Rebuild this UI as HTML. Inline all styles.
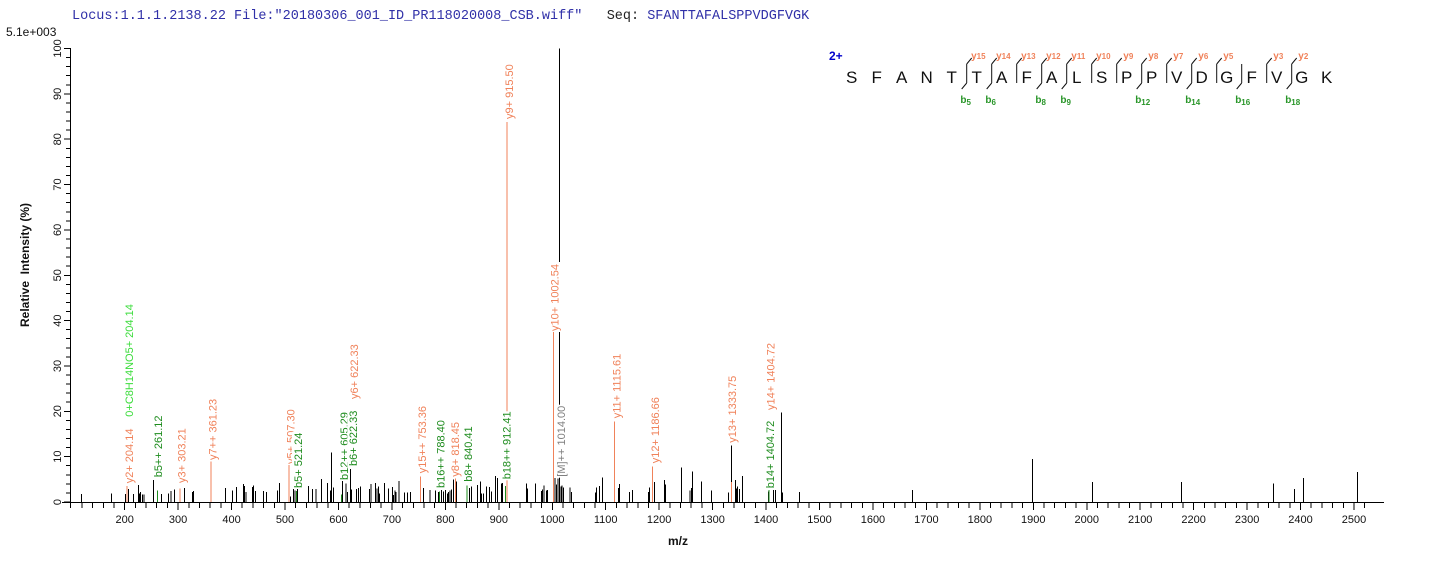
<!DOCTYPE html>
<html><head><meta charset="utf-8">
<style>
html,body{margin:0;padding:0;background:#fff;}
svg{display:block;}
text{font-family:"Liberation Sans",Arial,sans-serif;}
</style></head>
<body>
<svg width="1436" height="562" viewBox="0 0 1436 562" xmlns="http://www.w3.org/2000/svg">
<rect width="1436" height="562" fill="#fff"/>
<!-- header -->
<text x="72" y="19" style="font-family:'Liberation Mono',monospace;font-size:13.5px;white-space:pre" fill="#3030a8" xml:space="preserve">Locus:1.1.1.2138.22 File:"20180306_001_ID_PR118020008_CSB.wiff"   <tspan fill="#222">Seq:</tspan> SFANTTAFALSPPVDGFVGK</text>
<text x="6" y="36" font-size="12" fill="#111">5.1e+003</text>

<!-- axes -->
<g stroke="#000" stroke-width="1" shape-rendering="crispEdges" fill="none">
<path d="M62 502.5 H1384"/>
<path d="M70.5 48 V508"/>
<path d="M64 502H70M64 456.65H70M64 411.3H70M64 365.95H70M64 320.6H70M64 275.25H70M64 229.9H70M64 184.55H70M64 139.2H70M64 93.85H70M64 48.5H70"/>
<path d="M66 492.93H70M66 483.86H70M66 474.79H70M66 465.72H70M66 447.58H70M66 438.51H70M66 429.44H70M66 420.37H70M66 402.23H70M66 393.16H70M66 384.09H70M66 375.02H70M66 356.88H70M66 347.81H70M66 338.74H70M66 329.67H70M66 311.53H70M66 302.46H70M66 293.39H70M66 284.32H70M66 266.18H70M66 257.11H70M66 248.04H70M66 238.97H70M66 220.83H70M66 211.76H70M66 202.69H70M66 193.62H70M66 175.48H70M66 166.41H70M66 157.34H70M66 148.27H70M66 130.13H70M66 121.06H70M66 111.99H70M66 102.92H70M66 84.78H70M66 75.71H70M66 66.64H70M66 57.57H70"/>
<path d="M124.65 502V510M178.1 502V510M231.55 502V510M285 502V510M338.45 502V510M391.9 502V510M445.35 502V510M498.8 502V510M552.25 502V510M605.7 502V510M659.15 502V510M712.6 502V510M766.05 502V510M819.5 502V510M872.95 502V510M926.4 502V510M979.85 502V510M1033.3 502V510M1086.75 502V510M1140.2 502V510M1193.65 502V510M1247.1 502V510M1300.55 502V510M1354 502V510"/>
<path d="M81.89 502V508M92.58 502V508M103.27 502V508M113.96 502V508M135.34 502V508M146.03 502V508M156.72 502V508M167.41 502V508M188.79 502V508M199.48 502V508M210.17 502V508M220.86 502V508M242.24 502V508M252.93 502V508M263.62 502V508M274.31 502V508M295.69 502V508M306.38 502V508M317.07 502V508M327.76 502V508M349.14 502V508M359.83 502V508M370.52 502V508M381.21 502V508M402.59 502V508M413.28 502V508M423.97 502V508M434.66 502V508M456.04 502V508M466.73 502V508M477.42 502V508M488.11 502V508M509.49 502V508M520.18 502V508M530.87 502V508M541.56 502V508M562.94 502V508M573.63 502V508M584.32 502V508M595.01 502V508M616.39 502V508M627.08 502V508M637.77 502V508M648.46 502V508M669.84 502V508M680.53 502V508M691.22 502V508M701.91 502V508M723.29 502V508M733.98 502V508M744.67 502V508M755.36 502V508M776.74 502V508M787.43 502V508M798.12 502V508M808.81 502V508M830.19 502V508M840.88 502V508M851.57 502V508M862.26 502V508M883.64 502V508M894.33 502V508M905.02 502V508M915.71 502V508M937.09 502V508M947.78 502V508M958.47 502V508M969.16 502V508M990.54 502V508M1001.23 502V508M1011.92 502V508M1022.61 502V508M1043.99 502V508M1054.68 502V508M1065.37 502V508M1076.06 502V508M1097.44 502V508M1108.13 502V508M1118.82 502V508M1129.51 502V508M1150.89 502V508M1161.58 502V508M1172.27 502V508M1182.96 502V508M1204.34 502V508M1215.03 502V508M1225.72 502V508M1236.41 502V508M1257.79 502V508M1268.48 502V508M1279.17 502V508M1289.86 502V508M1311.24 502V508M1321.93 502V508M1332.62 502V508M1343.31 502V508M1364.69 502V508"/>
</g>

<!-- y labels -->
<g font-size="11" fill="#111" text-anchor="middle">
<text transform="translate(57,502) rotate(-90)" dy="0.35em">0</text>
<text transform="translate(57,456.65) rotate(-90)" dy="0.35em">10</text>
<text transform="translate(57,411.3) rotate(-90)" dy="0.35em">20</text>
<text transform="translate(57,365.95) rotate(-90)" dy="0.35em">30</text>
<text transform="translate(57,320.6) rotate(-90)" dy="0.35em">40</text>
<text transform="translate(57,275.25) rotate(-90)" dy="0.35em">50</text>
<text transform="translate(57,229.9) rotate(-90)" dy="0.35em">60</text>
<text transform="translate(57,184.55) rotate(-90)" dy="0.35em">70</text>
<text transform="translate(57,139.2) rotate(-90)" dy="0.35em">80</text>
<text transform="translate(57,93.85) rotate(-90)" dy="0.35em">90</text>
<text transform="translate(57,48.5) rotate(-90)" dy="0.35em">100</text>
</g>
<text transform="translate(25,265) rotate(-90)" dy="0.35em" font-size="12" font-weight="bold" fill="#111" text-anchor="middle" xml:space="preserve">Relative  Intensity (%)</text>

<!-- x labels -->
<g font-size="11" fill="#111" text-anchor="middle">
<text x="124.65" y="523">200</text><text x="178.1" y="523">300</text><text x="231.55" y="523">400</text><text x="285" y="523">500</text><text x="338.45" y="523">600</text><text x="391.9" y="523">700</text><text x="445.35" y="523">800</text><text x="498.8" y="523">900</text><text x="552.25" y="523">1000</text><text x="605.7" y="523">1100</text><text x="659.15" y="523">1200</text><text x="712.6" y="523">1300</text><text x="766.05" y="523">1400</text><text x="819.5" y="523">1500</text><text x="872.95" y="523">1600</text><text x="926.4" y="523">1700</text><text x="979.85" y="523">1800</text><text x="1033.3" y="523">1900</text><text x="1086.75" y="523">2000</text><text x="1140.2" y="523">2100</text><text x="1193.65" y="523">2200</text><text x="1247.1" y="523">2300</text><text x="1300.55" y="523">2400</text><text x="1354" y="523">2500</text>
</g>
<text x="678" y="545" font-size="12" font-weight="bold" fill="#111" text-anchor="middle">m/z</text>

<!-- black peaks -->
<path stroke="#000" stroke-width="1" fill="none" shape-rendering="crispEdges" d="M81.7 502V494M111.3 502V493.3M125.7 502V494M128.7 502V489M133.3 502V494M138.3 502V485M139.3 502V493.3M140.7 502V492M142.3 502V494.3M144 502V494.3M153.3 502V480M161.7 502V494M168.3 502V493.3M171 502V491M174.3 502V489.7M184.7 502V488M192.3 502V492M193.7 502V491M225.3 502V488M232.3 502V490.7M236.3 502V487M243.7 502V484M244.7 502V486M246 502V492M252.3 502V487M253.7 502V485.7M255.3 502V491M263.7 502V491M266.7 502V492M277.7 502V490.7M279.3 502V483M290.3 502V496.7M293.3 502V489M295 502V490.7M297.7 502V488.3M308.7 502V486M312.3 502V489M316 502V489M321.3 502V479M327.3 502V483M330.3 502V490.7M331.7 502V452.3M333.3 502V487.3M342.7 502V480M346 502V483.7M347.3 502V492M350.5 502V469M351.7 502V489.3M356.7 502V489M358.7 502V488M360.7 502V486.7M369.7 502V489M371 502V484M375.7 502V483M377 502V488.3M378.3 502V486.7M379.7 502V493.3M384.3 502V483M388.3 502V488.3M392.3 502V487M393.3 502V495M395 502V490.7M396 502V492M399 502V481M404.7 502V492.7M407.3 502V492.7M410.7 502V492M423.7 502V488M430 502V490M435.3 502V490.7M438.3 502V492M441.7 502V490M443.3 502V491.3M445.3 502V490M447.3 502V493.3M448.7 502V492M450 502V490.7M451.7 502V489.3M453.3 502V479.3M456.7 502V481.3M469.3 502V488M471.3 502V486.7M477.3 502V485M480.3 502V481.7M481.3 502V493.3M483.3 502V493.3M486.3 502V486.7M489.7 502V487M491.3 502V491.3M495.3 502V476M497.3 502V478M501.3 502V483.3M502.7 502V483M526.7 502V483.7M527.7 502V488.3M535.3 502V483.7M541.7 502V491M542.7 502V489.3M544 502V485.7M546.3 502V490.7M547.7 502V490M555 502V478M556.5 502V484.7M558 502V478.7M559.3 502V48.5M561 502V486.7M562 502V485.3M563.3 502V487.3M570 502V487.3M571.3 502V492M595.3 502V492.7M596.7 502V487.3M599.3 502V486M602.7 502V477.3M618.3 502V488M619.3 502V484M629.3 502V492M632.3 502V490M648.7 502V492M649.7 502V487.3M654.3 502V482M664.3 502V480M665.3 502V484.7M681.7 502V467.3M690 502V490.7M691.3 502V488M692.3 502V471.3M701.3 502V481.3M711.3 502V490.7M728.7 502V492.7M731.3 502V445.7M735.3 502V480M736.3 502V488.7M737.3 502V486.7M739.3 502V489M742.3 502V476M768.3 502V491.3M773.3 502V490M775.3 502V490M781.7 502V412.7M782.7 502V492.7M799.7 502V492M912.3 502V490M1032.3 502V459M1092.3 502V482M1181.7 502V482M1273.3 502V483.7M1294.3 502V489M1303.3 502V478M1357.3 502V472"/>
<!-- orange peaks -->
<path stroke="#f0825a" stroke-width="1" fill="none" shape-rendering="crispEdges" d="M126.9 502V486M179.8 502V488.7M211 502V461.7M289 502V464.3M420.7 502V476.7M455.5 502V478.7M507 502V122M553.3 502V331M614.7 502V421.7M652.7 502V466.7M731.3 502V482"/>
<!-- green peaks -->
<path stroke="#1e8c1e" stroke-width="1" fill="none" shape-rendering="crispEdges" d="M157.3 502V490.7M296.4 502V491M341.5 502V494.7M439.6 502V491.3M467.2 502V485.7M505.4 502V486M769.2 502V490"/>

<!-- peak labels -->
<g font-size="11">
<g transform="translate(129.3,483.3) rotate(-90)"><rect x="-1" y="-6" width="57" height="12" fill="#fff"/><text dy="0.35em" fill="#f0825a">y2+ 204.14</text></g>
<g transform="translate(129.3,416.7) rotate(-90)"><rect x="-1" y="-6" width="114" height="12" fill="#fff"/><text dy="0.35em" fill="#3cdc3c">0+C8H14NO5+ 204.14</text></g>
<g transform="translate(158.3,477.3) rotate(-90)"><rect x="-1" y="-6" width="63" height="12" fill="#fff"/><text dy="0.35em" fill="#1e8c1e">b5++ 261.12</text></g>
<g transform="translate(181.7,483) rotate(-90)"><rect x="-1" y="-6" width="57" height="12" fill="#fff"/><text dy="0.35em" fill="#f0825a">y3+ 303.21</text></g>
<g transform="translate(212.7,460) rotate(-90)"><rect x="-1" y="-6" width="63" height="12" fill="#fff"/><text dy="0.35em" fill="#f0825a">y7++ 361.23</text></g>
<g transform="translate(290.5,464) rotate(-90)"><rect x="-1" y="-6" width="57" height="12" fill="#fff"/><text dy="0.35em" fill="#f0825a">y5+ 507.30</text></g>
<g transform="translate(298,488) rotate(-90)"><rect x="-1" y="-6" width="57" height="12" fill="#fff"/><text dy="0.35em" fill="#1e8c1e">b5+ 521.24</text></g>
<g transform="translate(344,480) rotate(-90)"><rect x="-1" y="-6" width="69" height="12" fill="#fff"/><text dy="0.35em" fill="#1e8c1e">b12++ 605.29</text></g>
<g transform="translate(353.3,466) rotate(-90)"><rect x="-1" y="-6" width="57" height="12" fill="#fff"/><text dy="0.35em" fill="#1e8c1e">b6+ 622.33</text></g>
<g transform="translate(354.3,399) rotate(-90)"><rect x="-1" y="-6" width="57" height="12" fill="#fff"/><text dy="0.35em" fill="#f0825a">y6+ 622.33</text></g>
<g transform="translate(422.3,473.3) rotate(-90)"><rect x="-1" y="-6" width="69" height="12" fill="#fff"/><text dy="0.35em" fill="#f0825a">y15++ 753.36</text></g>
<g transform="translate(440.7,488) rotate(-90)"><rect x="-1" y="-6" width="69" height="12" fill="#fff"/><text dy="0.35em" fill="#1e8c1e">b16++ 788.40</text></g>
<g transform="translate(455,476.7) rotate(-90)"><rect x="-1" y="-6" width="57" height="12" fill="#fff"/><text dy="0.35em" fill="#f0825a">y8+ 818.45</text></g>
<g transform="translate(468.3,481.7) rotate(-90)"><rect x="-1" y="-6" width="57" height="12" fill="#fff"/><text dy="0.35em" fill="#1e8c1e">b8+ 840.41</text></g>
<g transform="translate(506.7,479.3) rotate(-90)"><rect x="-1" y="-6" width="69" height="12" fill="#fff"/><text dy="0.35em" fill="#1e8c1e">b18++ 912.41</text></g>
<g transform="translate(509.3,119) rotate(-90)"><rect x="-1" y="-6" width="57" height="12" fill="#fff"/><text dy="0.35em" fill="#f0825a">y9+ 915.50</text></g>
<g transform="translate(554.5,331) rotate(-90)"><rect x="-1" y="-6.5" width="70" height="13" fill="#fff"/><text dy="0.35em" fill="#f0825a">y10+ 1002.54</text></g>
<g transform="translate(561,476.7) rotate(-90)"><rect x="-1" y="-6.5" width="73" height="15" fill="#fff"/><text dy="0.35em" fill="#7f7f7f">[M]++ 1014.00</text></g>
<g transform="translate(616.7,418.3) rotate(-90)"><rect x="-1" y="-6" width="69" height="12" fill="#fff"/><text dy="0.35em" fill="#f0825a">y11+ 1115.61</text></g>
<g transform="translate(655,463.3) rotate(-90)"><rect x="-1" y="-6" width="69" height="12" fill="#fff"/><text dy="0.35em" fill="#f0825a">y12+ 1186.66</text></g>
<g transform="translate(732.3,442.7) rotate(-90)"><rect x="-1" y="-6" width="69" height="12" fill="#fff"/><text dy="0.35em" fill="#f0825a">y13+ 1333.75</text></g>
<g transform="translate(770,488.3) rotate(-90)"><rect x="-1" y="-6" width="69" height="12" fill="#fff"/><text dy="0.35em" fill="#1e8c1e">b14+ 1404.72</text></g>
<g transform="translate(770.7,410) rotate(-90)"><rect x="-1" y="-6" width="69" height="12" fill="#fff"/><text dy="0.35em" fill="#f0825a">y14+ 1404.72</text></g>
</g>

<!-- peptide -->
<text x="829" y="60" font-size="12" font-weight="bold" fill="#0000cc">2+</text>
<g font-size="17" fill="#111" text-anchor="middle">
<text x="851.7" y="83">S</text><text x="876.7" y="83">F</text><text x="901.7" y="83">A</text><text x="926.7" y="83">N</text><text x="951.7" y="83">T</text><text x="976.7" y="83">T</text><text x="1001.7" y="83">A</text><text x="1026.7" y="83">F</text><text x="1051.7" y="83">A</text><text x="1076.7" y="83">L</text><text x="1101.7" y="83">S</text><text x="1126.7" y="83">P</text><text x="1151.7" y="83">P</text><text x="1176.7" y="83">V</text><text x="1201.7" y="83">D</text><text x="1226.7" y="83">G</text><text x="1251.7" y="83">F</text><text x="1276.7" y="83">V</text><text x="1301.7" y="83">G</text><text x="1326.7" y="83">K</text>
</g>
<path stroke="#111" stroke-width="1" fill="none" d="M966.7 64V83M991.7 64V83M1016.7 64V83M1041.7 64V83M1066.7 64V83M1091.7 64V83M1116.7 64V83M1141.7 64V83M1166.7 64V83M1191.7 64V83M1216.7 64V83M1241.7 64V83M1266.7 64V83M1291.7 64V83
M966.7 64l5 -6M991.7 64l5 -6M1016.7 64l5 -6M1041.7 64l5 -6M1066.7 64l5 -6M1091.7 64l5 -6M1116.7 64l5 -6M1141.7 64l5 -6M1166.7 64l5 -6M1191.7 64l5 -6M1216.7 64l5 -6M1266.7 64l5 -6M1291.7 64l5 -6
M966.7 83l-5 6M991.7 83l-5 6M1041.7 83l-5 6M1066.7 83l-5 6M1141.7 83l-5 6M1191.7 83l-5 6M1241.7 83l-5 6M1291.7 83l-5 6"/>
<g font-size="10" font-weight="bold" fill="#f0825a" text-anchor="middle">
<text x="978.3" y="59">y<tspan font-size="8">15</tspan></text>
<text x="1003.3" y="59">y<tspan font-size="8">14</tspan></text>
<text x="1028.3" y="59">y<tspan font-size="8">13</tspan></text>
<text x="1053.3" y="59">y<tspan font-size="8">12</tspan></text>
<text x="1078.3" y="59">y<tspan font-size="8">11</tspan></text>
<text x="1103.3" y="59">y<tspan font-size="8">10</tspan></text>
<text x="1128.3" y="59">y<tspan font-size="8">9</tspan></text>
<text x="1153.3" y="59">y<tspan font-size="8">8</tspan></text>
<text x="1178.3" y="59">y<tspan font-size="8">7</tspan></text>
<text x="1203.3" y="59">y<tspan font-size="8">6</tspan></text>
<text x="1228.3" y="59">y<tspan font-size="8">5</tspan></text>
<text x="1278.3" y="59">y<tspan font-size="8">3</tspan></text>
<text x="1303.3" y="59">y<tspan font-size="8">2</tspan></text>
</g>
<g font-size="10" font-weight="bold" fill="#2a962a" text-anchor="middle">
<text x="965.7" y="103">b<tspan font-size="8" dy="2">5</tspan></text>
<text x="990.7" y="103">b<tspan font-size="8" dy="2">6</tspan></text>
<text x="1040.7" y="103">b<tspan font-size="8" dy="2">8</tspan></text>
<text x="1065.7" y="103">b<tspan font-size="8" dy="2">9</tspan></text>
<text x="1142.7" y="103">b<tspan font-size="8" dy="2">12</tspan></text>
<text x="1192.7" y="103">b<tspan font-size="8" dy="2">14</tspan></text>
<text x="1242.7" y="103">b<tspan font-size="8" dy="2">16</tspan></text>
<text x="1292.7" y="103">b<tspan font-size="8" dy="2">18</tspan></text>
</g>
</svg>
</body></html>
